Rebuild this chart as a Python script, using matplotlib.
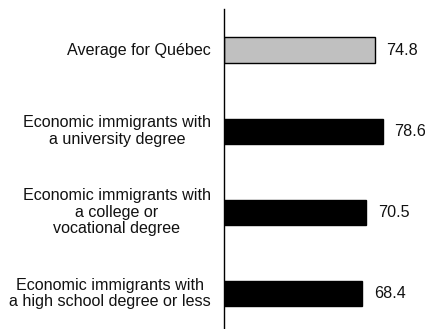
import matplotlib.pyplot as plt

labels = [
    "Average for Québec",
    "Economic immigrants with\na university degree",
    "Economic immigrants with\na college or\nvocational degree",
    "Economic immigrants with\na high school degree or less",
]
values = [74.8, 78.6, 70.5, 68.4]
colors = ["#c0c0c0", "black", "black", "black"]

plt.rcParams["font.family"] = ["Liberation Sans", "DejaVu Sans"]

fig = plt.figure(figsize=(4.25, 3.29), dpi=100)
ax = fig.add_axes([224 / 425, 0, 201 / 425, 320 / 329])

pos = list(range(len(values)))
ax.barh(pos, values, height=0.31, color=colors, edgecolor="black", linewidth=1)

for y, v in zip(pos, values):
    ax.text(v + 5.7, y, f"{v:.1f}", va="center", ha="left", fontsize=11.6,
            color="#111111")

for y, lab in zip(pos, labels):
    ax.text(-6.5, y, lab, va="center", ha="right", fontsize=11.6,
            linespacing=1.12, multialignment="center", color="#111111")

ax.set_xlim(0, 99.5)
ax.set_ylim(3.44, -0.506)
ax.set_xticks([])
ax.set_yticks([])
for s in ["top", "right", "bottom"]:
    ax.spines[s].set_visible(False)
ax.spines["left"].set_linewidth(1)

fig.savefig("out.png", dpi=100)
